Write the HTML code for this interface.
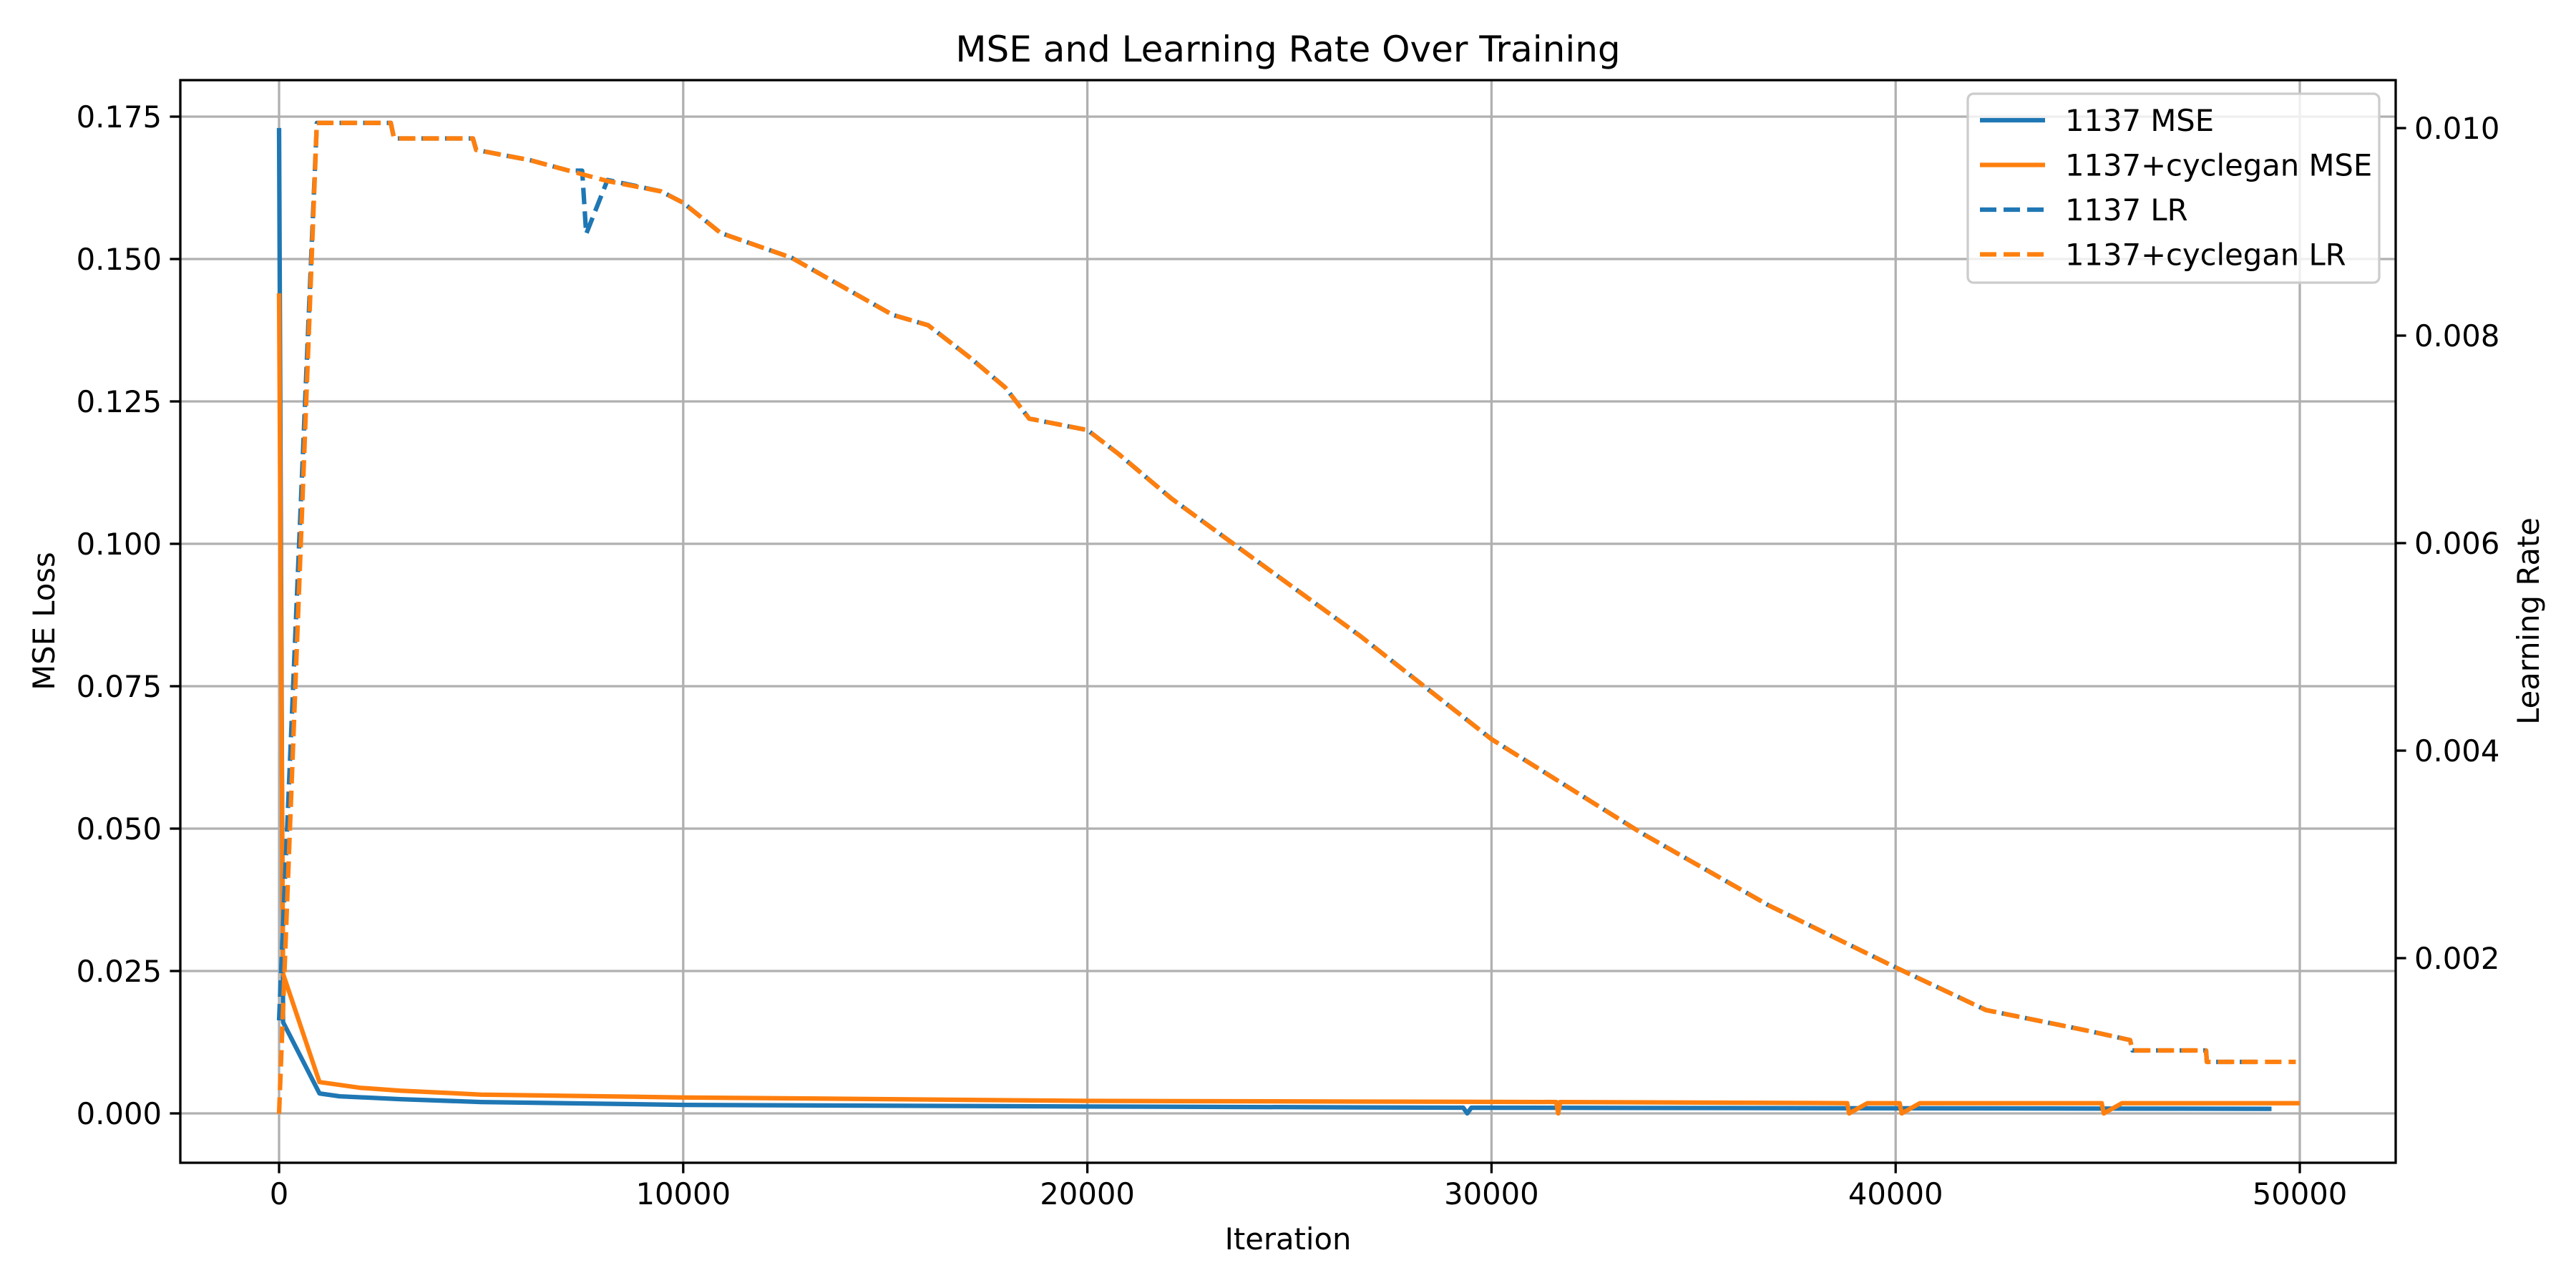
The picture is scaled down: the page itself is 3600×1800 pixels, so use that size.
<!DOCTYPE html>
<html><head><meta charset="utf-8"><style>
html,body{margin:0;padding:0;background:#fff;}
svg{display:block;font-family:"DejaVu Sans","Liberation Sans",sans-serif;}
</style></head><body>
<svg id="chart" width="3600" height="1800" viewBox="0 0 3600 1800" xmlns="http://www.w3.org/2000/svg">
<rect width="3600" height="1800" fill="#fff"/>
<text x="1800" y="86" font-size="50" text-anchor="middle">MSE and Learning Rate Over Training</text>
<g id="grid"></g><g id="series"></g><g id="axes"></g><g id="legend"></g>
<text x="1800" y="1746" font-size="41.7" text-anchor="middle">Iteration</text>
<text transform="translate(76,868) rotate(-90)" font-size="41.7" text-anchor="middle">MSE Loss</text>
<text transform="translate(3548,868) rotate(-90)" font-size="41.7" text-anchor="middle">Learning Rate</text>
</svg>
<script>
const xTicks=[0,10000,20000,30000,40000,50000];
const yTicks=[0,0.025,0.05,0.075,0.1,0.125,0.15,0.175];
const yTickLabels=["0.000","0.025","0.050","0.075","0.100","0.125","0.150","0.175"];
const y2Ticks=[0.002,0.004,0.006,0.008,0.010];
const y2TickLabels=["0.002","0.004","0.006","0.008","0.010"];
const mseBlueX=[0,100,1000,1500,3000,5000,10000,20000,29300,29400,29500,49300];
const mseBlueY=[0.173,0.016,0.0035,0.003,0.0025,0.002,0.0015,0.0012,0.001,0.0,0.001,0.0008];
const mseOrangeX=[0,100,1000,2000,3000,5000,10000,20000,31600,31650,31700,38800,38850,39300,40100,40150,40600,45100,45150,45600,50000];
const mseOrangeY=[0.144,0.0245,0.0055,0.0045,0.004,0.0033,0.0028,0.0022,0.002,0.0,0.002,0.0018,0.0,0.0018,0.0018,0.0,0.0018,0.0018,0.0,0.0018,0.0018];
const lrOrangeX=[0,935,2764,2846,4797,4878,6214,7170,8127,9455,10000,10925,12680,13860,15180,16060,17090,17970,18560,20000,20770,22080,24400,26735,30000,33690,36850,40000,42230,44760,45800,45860,47680,47700,49900];
const lrOrangeY=[0.0005,0.01005,0.01005,0.0099,0.0099,0.00979,0.00969,0.00959,0.00949,0.00939,0.00928,0.00899,0.00875,0.00849,0.0082,0.0081,0.00779,0.0075,0.0072,0.00709,0.00686,0.00643,0.00577,0.00511,0.00411,0.00321,0.00251,0.00191,0.0015,0.0013,0.00121,0.00111,0.00111,0.0010,0.0010];
const lrBlueX=[0,935,2764,2846,4797,4878,6214,7170,7500,7600,8127,9455,10000,10925,12680,13860,15180,16060,17090,17970,18560,20000,20770,22080,24400,26735,30000,33690,36850,40000,42230,44760,45800,45860,47680,47700,49000];
const lrBlueY=[0.0014,0.01005,0.01005,0.0099,0.0099,0.00979,0.00969,0.00959,0.00959,0.00898,0.0095,0.00939,0.00928,0.00899,0.00875,0.00849,0.0082,0.0081,0.00779,0.0075,0.0072,0.00709,0.00686,0.00643,0.00577,0.00511,0.00411,0.00321,0.00251,0.00191,0.0015,0.0013,0.00121,0.00111,0.00111,0.0010,0.0010];

const L=252,R=3348,T=112,B=1625;
const xs=v=>390+v*(3214-390)/50000;
const ys=v=>1556-v*(1556-163)/0.175;
const y2s=v=>1339-(v-0.002)*1160/0.008;
const NS="http://www.w3.org/2000/svg";
function mk(tag,attrs,parent){const e=document.createElementNS(NS,tag);for(const k in attrs)e.setAttribute(k,attrs[k]);parent.appendChild(e);return e;}
const grid=document.getElementById('grid'),axes=document.getElementById('axes'),series=document.getElementById('series'),legend=document.getElementById('legend');
xTicks.forEach((t,i)=>{
 const g=mk('line',{x1:xs(t),x2:xs(t),y1:T,y2:B,stroke:'#b0b0b0','stroke-width':3.3},grid);
 
 
 const tk=mk('line',{x1:xs(t),x2:xs(t),y1:B,y2:B+14.6,stroke:'#000','stroke-width':3.3},axes);
 
 
 const tx=mk('text',{x:xs(t),y:B+58,'font-size':41.7,'text-anchor':'middle'},axes);
 
 
 tx.textContent=String(t);
});
yTicks.forEach((t,i)=>{
 const g=mk('line',{x1:L,x2:R,y1:ys(t),y2:ys(t),stroke:'#b0b0b0','stroke-width':3.3},grid);
 
 
 const tk=mk('line',{x1:L-14.6,x2:L,y1:ys(t),y2:ys(t),stroke:'#000','stroke-width':3.3},axes);
 
 
 const tx=mk('text',{x:L-26,y:ys(t)+15,'font-size':41.7,'text-anchor':'end'},axes);
 
 
 tx.textContent=yTickLabels[i];
});
y2Ticks.forEach((t,i)=>{
 const tk=mk('line',{x1:R,x2:R+14.6,y1:y2s(t),y2:y2s(t),stroke:'#000','stroke-width':3.3},axes);
 
 
 const tx=mk('text',{x:R+26,y:y2s(t)+15,'font-size':41.7,'text-anchor':'start'},axes);
 
 
 tx.textContent=y2TickLabels[i];
});
const frame=mk('rect',{x:L,y:T,width:R-L,height:B-T,fill:'none',stroke:'#000','stroke-width':3.3},axes);


function pts(X,Y,f){return X.map((x,i)=>xs(x).toFixed(1)+','+f(Y[i]).toFixed(1)).join(' ');}
const defs=[
 ['mse-1137-line',mseBlueX,mseBlueY,ys,'#1f77b4',null],
 ['mse-cyclegan-line',mseOrangeX,mseOrangeY,ys,'#ff7f0e',null],
 ['lr-1137-line',lrBlueX,lrBlueY,y2s,'#1f77b4','23,10'],
 ['lr-cyclegan-line',lrOrangeX,lrOrangeY,y2s,'#ff7f0e','23,10']];
defs.forEach(d=>{
 const a={points:pts(d[1],d[2],d[3]),fill:'none',stroke:d[4],'stroke-width':6.25,'stroke-linejoin':'round'};
 if(d[5])a['stroke-dasharray']=d[5];
 const p=mk('polyline',a,series);
 
 
});
const box=mk('rect',{x:2750,y:131,width:575,height:264,rx:8,fill:'#fff','fill-opacity':0.8,stroke:'#ccc','stroke-width':3.3},legend);


const entries=[['1137 MSE','#1f77b4',null],['1137+cyclegan MSE','#ff7f0e',null],['1137 LR','#1f77b4','23,10'],['1137+cyclegan LR','#ff7f0e','23,10']];
entries.forEach((e,i)=>{
 const y=168+i*62.5;
 const a={x1:2767,x2:2858,y1:y,y2:y,stroke:e[1],'stroke-width':6.25};
 if(e[2])a['stroke-dasharray']=e[2];
 const ln=mk('line',a,legend);
 
 
 const t=mk('text',{x:2886,y:y+15,'font-size':41.7},legend);
 
 
 t.textContent=e[0];
});
</script>
</body></html>
